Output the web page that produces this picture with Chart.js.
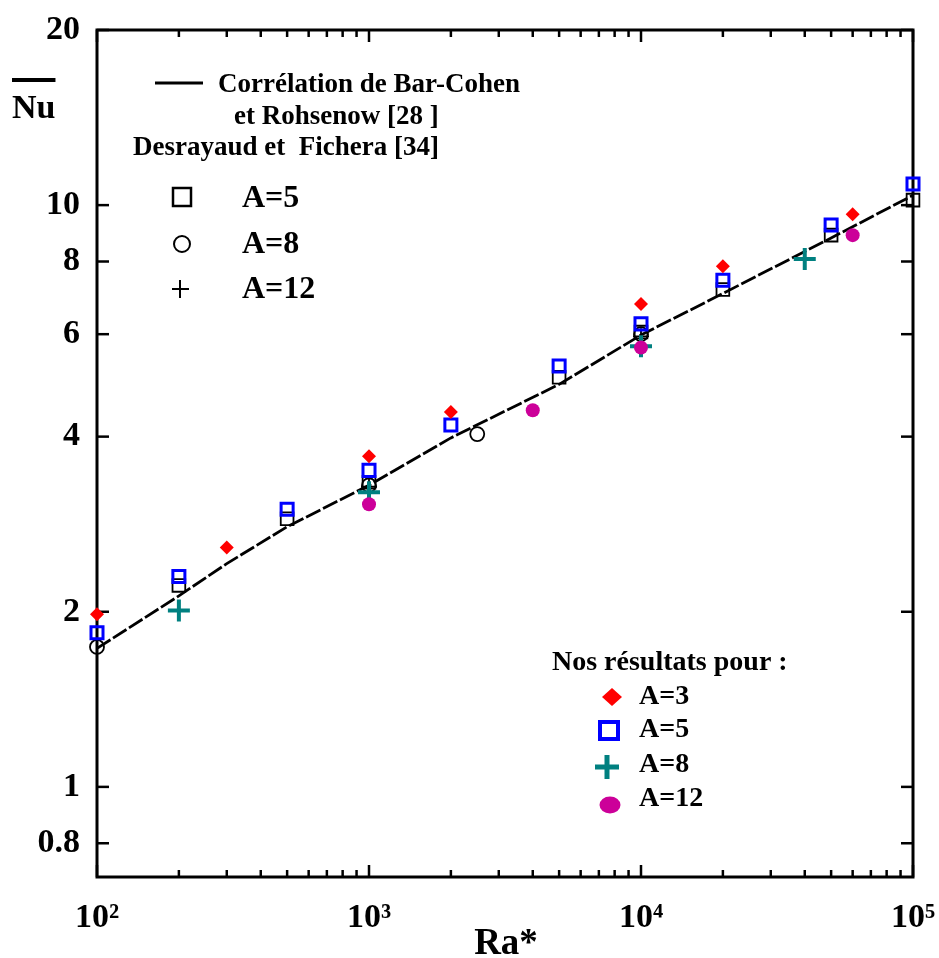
<!DOCTYPE html>
<html>
<head>
<meta charset="utf-8">
<script src="https://cdn.jsdelivr.net/npm/chart.js@4.4.1/dist/chart.umd.min.js"></script>
<style>
html,body{margin:0;padding:0;background:#fff;}
canvas{display:block;}
</style>
</head>
<body>
<canvas id="c" width="939" height="958"></canvas>
<script>
// ---------------- data ----------------
// Nos résultats
const raA3  = [100, 300, 1000, 2000, 10000, 20000, 60000];
const nuA3  = [1.98, 2.58, 3.70, 4.41, 6.76, 7.85, 9.65];
const raA5  = [100, 200, 500, 1000, 2000, 5000, 10000, 20000, 50000, 100000];
const nuA5  = [1.84, 2.30, 3.00, 3.50, 4.19, 5.29, 6.25, 7.43, 9.24, 10.87];
const raA8  = [200, 1000, 10000, 40000];
const nuA8  = [2.01, 3.21, 5.72, 8.08];
const raA12 = [1000, 4000, 10000, 60000];
const nuA12 = [3.06, 4.44, 5.69, 8.88];
// Desrayaud et Fichera [34]
const raDF5  = [200, 500, 1000, 5000, 10000, 20000, 50000, 100000];
const nuDF5  = [2.22, 2.89, 3.34, 5.06, 6.05, 7.16, 8.88, 10.2];
const raDF8  = [100, 1000, 2500, 10000];
const nuDF8  = [1.74, 3.30, 4.04, 6.00];
const raDF12 = [1000, 10000];
const nuDF12 = [3.28, 5.95];
// Corrélation de Bar-Cohen et Rohsenow [28]
const raCorr = [100, 200, 300, 500, 1000, 2000, 5000, 10000, 20000, 50000, 100000];
const nuCorr = [1.73, 2.13, 2.42, 2.80, 3.30, 3.98, 4.92, 5.98, 7.05, 8.78, 10.4];

// axes
const xTickValues = [100, 1000, 10000, 100000];
const xTickLabels = ['10\u00B2', '10\u00B3', '10\u2074', '10\u2075'];
const xMinorTicks = [200, 300, 400, 500, 600, 700, 800, 900,
                     2000, 3000, 4000, 5000, 6000, 7000, 8000, 9000,
                     20000, 30000, 40000, 50000, 60000, 70000, 80000, 90000];
const yTickValues = [0.8, 1, 2, 4, 6, 8, 10, 20];
const yTickLabels = ['0.8', '1', '2', '4', '6', '8', '10', '20'];
const xTitle = 'Ra*';
const yTitle = 'Nu';

const legendRef = ['Corrélation de Bar-Cohen', 'et Rohsenow [28 ]', 'Desrayaud et  Fichera [34]'];
const legendRefMarks = ['A=5', 'A=8', 'A=12'];
const legendOursTitle = 'Nos résultats pour :';
const legendOurs = ['A=3', 'A=5', 'A=8', 'A=12'];

// ---------------- styling ----------------
const SERIF = '"Liberation Serif", "Times New Roman", serif';
const RED = '#ff0000', BLUE = '#0000ff', TEAL = '#008080', MAG = '#cc0099';

function pts(xs, ys) { return xs.map((x, i) => ({ x: x, y: ys[i] })); }

const decor = {
  id: 'decor',
  beforeDatasetsDraw(chart) {
    const { ctx, chartArea: a, scales } = chart;
    const x = scales.x, y = scales.y;
    ctx.save();
    ctx.strokeStyle = '#000';
    ctx.lineWidth = 3;
    ctx.strokeRect(a.left, a.top, a.right - a.left, a.bottom - a.top);
    ctx.lineWidth = 2.5;
    const seg = (x1, y1, x2, y2) => { ctx.beginPath(); ctx.moveTo(x1, y1); ctx.lineTo(x2, y2); ctx.stroke(); };
    xMinorTicks.forEach(v => {
      const px = x.getPixelForValue(v);
      seg(px, a.bottom, px, a.bottom - 7);
      seg(px, a.top, px, a.top + 7);
    });
    xTickValues.forEach(v => {
      const px = x.getPixelForValue(v);
      seg(px, a.bottom, px, a.bottom - 12);
      seg(px, a.top, px, a.top + 12);
    });
    yTickValues.forEach(v => {
      const py = y.getPixelForValue(v);
      seg(a.left, py, a.left + 12, py);
      seg(a.right, py, a.right - 12, py);
    });
    ctx.restore();
  },
  afterDraw(chart) {
    const { ctx } = chart;
    ctx.save();
    ctx.fillStyle = '#000';
    ctx.strokeStyle = '#000';
    // axis titles
    ctx.font = 'bold 37px ' + SERIF;
    ctx.textAlign = 'center';
    ctx.textBaseline = 'alphabetic';
    ctx.fillText(xTitle, 506, 954);
    ctx.font = 'bold 34px ' + SERIF;
    ctx.textAlign = 'left';
    ctx.fillText(yTitle, 12, 118);
    const w = ctx.measureText(yTitle).width;
    ctx.fillRect(12, 78, w, 4);

    // reference legend (top left)
    ctx.lineWidth = 3;
    ctx.beginPath(); ctx.moveTo(155, 83); ctx.lineTo(203, 83); ctx.stroke();
    ctx.font = 'bold 27px ' + SERIF;
    ctx.textBaseline = 'middle';
    ctx.fillText(legendRef[0], 218, 85);
    ctx.fillText(legendRef[1], 234, 117);
    ctx.fillText(legendRef[2], 133, 148);
    ctx.lineWidth = 2.5;
    ctx.strokeRect(173, 188, 18, 18);
    ctx.lineWidth = 2;
    ctx.beginPath(); ctx.arc(182, 244, 8, 0, Math.PI * 2); ctx.stroke();
    ctx.beginPath(); ctx.moveTo(172, 289); ctx.lineTo(189, 289); ctx.moveTo(180, 280); ctx.lineTo(180, 298); ctx.stroke();
    ctx.font = 'bold 32px ' + SERIF;
    ctx.fillText(legendRefMarks[0], 242, 199);
    ctx.fillText(legendRefMarks[1], 242, 245);
    ctx.fillText(legendRefMarks[2], 242, 290);

    // our results legend (bottom right)
    ctx.font = 'bold 28px ' + SERIF;
    ctx.fillText(legendOursTitle, 552, 663);
    // diamond
    ctx.fillStyle = RED;
    ctx.beginPath(); ctx.moveTo(602, 697); ctx.lineTo(612, 688); ctx.lineTo(622, 697); ctx.lineTo(612, 706); ctx.closePath(); ctx.fill();
    // square
    ctx.strokeStyle = BLUE; ctx.lineWidth = 4;
    ctx.strokeRect(600, 722, 18, 17);
    // plus
    ctx.strokeStyle = TEAL; ctx.lineWidth = 5;
    ctx.beginPath(); ctx.moveTo(595, 767); ctx.lineTo(619, 767); ctx.moveTo(607, 755); ctx.lineTo(607, 779); ctx.stroke();
    // ellipse
    ctx.fillStyle = MAG;
    ctx.beginPath(); ctx.ellipse(610, 805, 10.5, 8.5, 0, 0, Math.PI * 2); ctx.fill();
    ctx.fillStyle = '#000';
    ctx.fillText(legendOurs[0], 639, 697);
    ctx.fillText(legendOurs[1], 639, 730);
    ctx.fillText(legendOurs[2], 639, 765);
    ctx.fillText(legendOurs[3], 639, 799);
    ctx.restore();
  }
};

const tickFont = { family: SERIF, size: 34, weight: 'bold' };

new Chart(document.getElementById('c').getContext('2d'), {
  type: 'scatter',
  data: {
    datasets: [
      { label: 'A=3', data: pts(raA3, nuA3), pointStyle: 'rectRot', pointRadius: 7,
        backgroundColor: RED, borderColor: RED, borderWidth: 0, clip: false },
      { label: 'A=5', data: pts(raA5, nuA5), pointStyle: 'rect', pointRadius: 8.5,
        backgroundColor: 'rgba(255,255,255,0)', borderColor: BLUE, pointBorderWidth: 3, clip: false },
      { label: 'A=12', data: pts(raA12, nuA12), pointStyle: 'circle', pointRadius: 7,
        backgroundColor: MAG, borderColor: MAG, borderWidth: 0, clip: false },
      { label: 'A=8', data: pts(raA8, nuA8), pointStyle: 'cross', pointRadius: 11,
        backgroundColor: TEAL, borderColor: TEAL, pointBorderWidth: 4, clip: false },
      { label: 'DF A=5', data: pts(raDF5, nuDF5), pointStyle: 'rect', pointRadius: 9,
        backgroundColor: 'rgba(255,255,255,0)', borderColor: '#000', pointBorderWidth: 1.8, clip: false },
      { label: 'DF A=8', data: pts(raDF8, nuDF8), pointStyle: 'circle', pointRadius: 7,
        backgroundColor: 'rgba(255,255,255,0)', borderColor: '#000', pointBorderWidth: 1.8, clip: false },
      { label: 'DF A=12', data: pts(raDF12, nuDF12), pointStyle: 'cross', pointRadius: 8,
        backgroundColor: '#000', borderColor: '#000', pointBorderWidth: 1.8, clip: false },
      { label: 'Bar-Cohen et Rohsenow', data: pts(raCorr, nuCorr), showLine: true, pointRadius: 0,
        borderColor: '#000', borderWidth: 2.8, borderDash: [16, 3], tension: 0, fill: false, clip: false }
    ]
  },
  options: {
    responsive: false,
    animation: false,
    layout: { padding: { top: 30, right: 26, left: 0, bottom: 0 } },
    plugins: { legend: { display: false }, tooltip: { enabled: false }, title: { display: false } },
    scales: {
      x: {
        type: 'logarithmic', position: 'bottom', min: 100, max: 100000,
        grid: { display: false, drawTicks: false },
        border: { display: false },
        afterFit: s => { s.height = 81; s.paddingLeft = 0; s.paddingRight = 0; },
        afterBuildTicks: s => { s.ticks = xTickValues.map(v => ({ value: v })); },
        ticks: {
          autoSkip: false, maxRotation: 0, minRotation: 0, padding: 21, color: '#000', font: tickFont,
          callback: v => xTickLabels[xTickValues.indexOf(v)]
        }
      },
      y: {
        type: 'logarithmic', position: 'left', min: 0.7, max: 20,
        grid: { display: false, drawTicks: false },
        border: { display: false },
        afterFit: s => { s.width = 97; s.paddingTop = 0; s.paddingBottom = 0; },
        afterBuildTicks: s => { s.ticks = yTickValues.map(v => ({ value: v })); },
        ticks: {
          autoSkip: false, padding: 17, color: '#000', font: tickFont,
          callback: v => yTickLabels[yTickValues.indexOf(v)]
        }
      }
    }
  },
  plugins: [decor]
});
</script>
</body>
</html>
